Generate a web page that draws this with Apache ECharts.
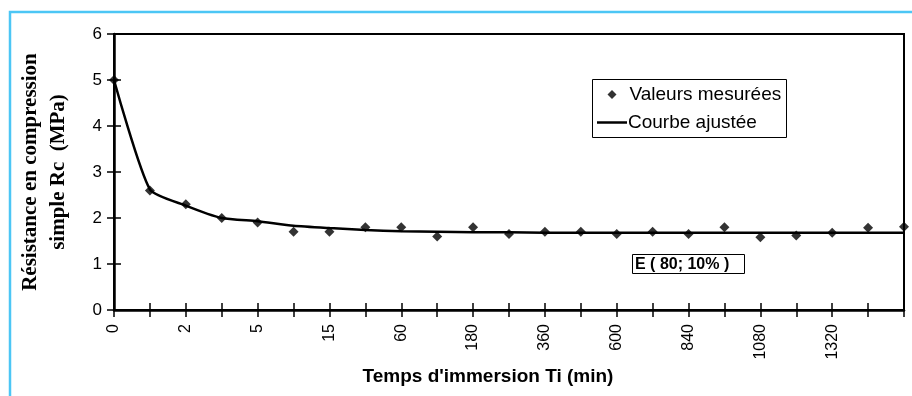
<!DOCTYPE html>
<html>
<head>
<meta charset="utf-8">
<script src="https://cdn.jsdelivr.net/npm/echarts@6/dist/echarts.min.js"></script>
<style>html,body{margin:0;padding:0;background:#fff}#c{width:912px;height:396px}</style>
</head>
<body>
<div id="c"></div>
<script>
const categories = ['0','1','2','3','5','10','15','30','60','120','180','240','360','480','600','720','840','960','1080','1200','1320','1440','1560'];
const measured = [5.0,2.6,2.3,2.0,1.9,1.7,1.7,1.8,1.8,1.6,1.8,1.65,1.7,1.7,1.65,1.7,1.65,1.8,1.58,1.62,1.68,1.79,1.81];
const fitted = [5.0,2.62,2.27,2.0,1.93,1.83,1.78,1.74,1.71,1.70,1.69,1.69,1.68,1.68,1.68,1.68,1.68,1.68,1.68,1.68,1.68,1.68,1.68];
const yTicks = [0,1,2,3,4,5,6];

const chart = echarts.init(document.getElementById('c'));
const fontA = 'Liberation Sans, Arial, sans-serif';
chart.setOption({
  animation: false,
  backgroundColor: '#fff',
  grid: {left: 114, top: 34, right: 8, bottom: 86, show: true, borderColor: '#000', borderWidth: 2,
    backgroundColor: 'transparent', containLabel: false, outerBoundsMode: 'none'},
  xAxis: [{
    type: 'category', data: categories, boundaryGap: false,
    axisLine: {lineStyle: {color: '#000', width: 2.5}},
    axisTick: {show: true, interval: 0, length: 7, lineStyle: {color: '#000', width: 1.5}},
    axisLabel: {interval: 1, rotate: 90, margin: 14, color: '#000', fontFamily: fontA, fontSize: 16,
      formatter: (v, i) => i === categories.length - 1 ? '' : v},
    splitLine: {show: false}
  }, {
    type: 'category', data: categories, boundaryGap: false, position: 'bottom',
    axisLine: {show: false},
    axisTick: {show: true, inside: true, interval: 0, length: 7, lineStyle: {color: '#000', width: 1.5}},
    axisLabel: {show: false}, splitLine: {show: false}
  }],
  yAxis: [{
    type: 'value', min: yTicks[0], max: yTicks[yTicks.length - 1], interval: 1,
    axisLine: {show: true, lineStyle: {color: '#000', width: 2.5}},
    axisTick: {show: true, length: 7, lineStyle: {color: '#000', width: 1.5}},
    axisLabel: {color: '#000', fontFamily: fontA, fontSize: 17, margin: 12},
    splitLine: {show: false},
    name: 'Résistance en compression\nsimple Rc  (MPa)',
    nameLocation: 'middle', nameRotate: 90, nameGap: 41,
    nameTextStyle: {fontFamily: 'Liberation Serif, Times New Roman, serif', fontWeight: 'bold', fontSize: 21, color: '#000', lineHeight: 28}
  }, {
    type: 'value', min: 0, max: 6, interval: 1, position: 'left',
    axisLine: {show: false},
    axisTick: {show: true, inside: true, length: 7, lineStyle: {color: '#000', width: 1.5}},
    axisLabel: {show: false}, splitLine: {show: false}
  }],
  legend: [{
    orient: 'horizontal', left: 607.5, top: 85, padding: 0,
    itemWidth: 9, itemHeight: 9, icon: 'diamond',
    textStyle: {fontFamily: fontA, fontSize: 19, color: '#000', padding: [0, 0, 0, 8]},
    data: ['Valeurs mesurées']
  }, {
    orient: 'horizontal', left: 597, top: 113, padding: 0,
    itemWidth: 30, itemHeight: 2.5, icon: 'rect',
    textStyle: {fontFamily: fontA, fontSize: 19, color: '#000', padding: [0, 0, 0, -4]},
    data: ['Courbe ajustée']
  }],
  series: [{
    name: 'Courbe ajustée', type: 'line', data: fitted, smooth: 0.2,
    symbol: 'none', lineStyle: {color: '#000', width: 2.5}, itemStyle: {color: '#000'}, z: 2
  }, {
    name: 'Valeurs mesurées', type: 'scatter', data: measured, symbol: 'diamond', symbolSize: 10,
    itemStyle: {color: '#000'}, z: 3
  }],
  graphic: [
    {type: 'polyline', shape: {points: [[10, 396], [10, 12], [912, 12]]}, style: {stroke: '#4cc6f5', lineWidth: 2.5, fill: null}, silent: true},
    {type: 'rect', shape: {x: 592.5, y: 79.5, width: 194, height: 58}, style: {stroke: '#000', lineWidth: 1, fill: null}, z: 10, silent: true},
    {type: 'rect', shape: {x: 632.5, y: 254.5, width: 112, height: 19}, style: {stroke: '#000', lineWidth: 1, fill: '#fff'}, z: 10},
    {type: 'text', x: 635, y: 264.5, style: {text: 'E ( 80; 10% )', fontFamily: fontA, fontWeight: 'bold', fontSize: 16, fill: '#000', verticalAlign: 'middle'}, z: 11},
    {type: 'text', x: 488, y: 377, style: {text: "Temps d'immersion Ti (min)", fontFamily: fontA, fontWeight: 'bold', fontSize: 19, fill: '#000', align: 'center', verticalAlign: 'middle'}}
  ]
});
</script>
</body>
</html>
